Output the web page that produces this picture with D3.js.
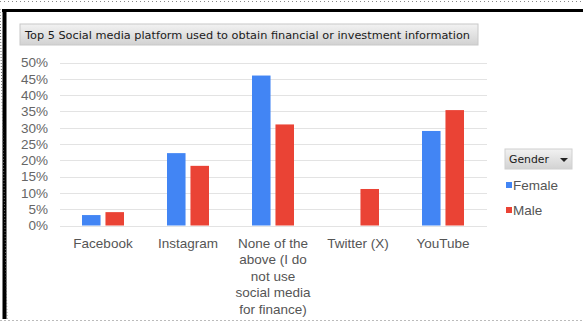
<!DOCTYPE html>
<html>
<head>
<meta charset="utf-8">
<script src="https://cdn.jsdelivr.net/npm/d3@7"></script>
<style>
  body { margin: 0; background: #fff; }
  svg { display: block; font-family: "Liberation Sans", Arial, sans-serif; }
</style>
</head>
<body>
<div id="chart"></div>
<script>
// data
const categories = ["Facebook", "Instagram", "None of the above", "Twitter (X)", "YouTube"];
const tickLabels = [
  ["Facebook"],
  ["Instagram"],
  ["None of the", "above (I do", "not use", "social media", "for finance)"],
  ["Twitter (X)"],
  ["YouTube"]
];
const genders = ["Female", "Male"];
const female = [0.032, 0.222, 0.460, 0, 0.290];
const male = [0.041, 0.183, 0.310, 0.112, 0.354];
const yTicks = [0, 0.05, 0.10, 0.15, 0.20, 0.25, 0.30, 0.35, 0.40, 0.45, 0.50];
const title = "Top 5 Social media platform used to obtain financial or investment information";

const colors = { Female: "#4285f4", Male: "#ea4335" };

let width = 583, height = 325;
let svg = d3.select("#chart").append("svg")
  .attr("width", width)
  .attr("height", height);

// frame round the screenshot
svg.append("line").attr("x1", 0).attr("x2", width).attr("y1", 1.5).attr("y2", 1.5)
  .style("stroke", "#888").style("stroke-dasharray", "1,3");
svg.append("line").attr("x1", 2).attr("x2", width).attr("y1", 10.5).attr("y2", 10.5)
  .style("stroke", "#000").style("stroke-width", 3);
svg.append("line").attr("x1", 4.5).attr("x2", 4.5).attr("y1", 9).attr("y2", 319)
  .style("stroke", "#000").style("stroke-width", 4);
svg.append("line").attr("x1", 0).attr("x2", 7).attr("y1", 9).attr("y2", 319)
  .style("stroke", "#666").style("stroke-dasharray", "1,2");
svg.append("line").attr("x1", 0).attr("x2", width).attr("y1", 320.5).attr("y2", 320.5)
  .style("stroke", "#bbb").style("stroke-dasharray", "2,2");

// gradient for the grey boxes
let defs = svg.append("defs");
let grad = defs.append("linearGradient").attr("id", "boxGrad")
  .attr("x1", 0).attr("x2", 0).attr("y1", 0).attr("y2", 1);
grad.append("stop").attr("offset", "0%").attr("stop-color", "#f2f2f2");
grad.append("stop").attr("offset", "100%").attr("stop-color", "#d2d2d2");

// title box
svg.append("rect")
  .attr("x", 20).attr("y", 24).attr("width", 458).attr("height", 21)
  .attr("fill", "url(#boxGrad)")
  .style("stroke", "#c8c8c8");
svg.append("text")
  .attr("x", 25).attr("y", 38.5)
  .style("font-family", "'DejaVu Sans', Tahoma, sans-serif")
  .style("font-size", "11px")
  .attr("textLength", 445)
  .attr("lengthAdjust", "spacingAndGlyphs")
  .style("fill", "#1a1a1a")
  .text(title);

// scales
let x0 = d3.scaleBand().domain(categories).range([60.5, 485.5]).padding(0);
let x1 = d3.scaleBand().domain(genders).range([0, 42]).paddingInner(0.21);
let y = d3.scaleLinear().domain([0, 0.5]).range([225.5, 62.5]);

// gridlines
svg.append("g")
  .selectAll("line")
  .data(yTicks)
  .enter().append("line")
  .attr("x1", 60).attr("x2", 487)
  .attr("y1", d => Math.round(y(d)) + 0.5)
  .attr("y2", d => Math.round(y(d)) + 0.5)
  .style("stroke", "#e3e3e3");

// y axis labels
let yAxis = svg.append("g")
  .attr("transform", "translate(48,0)")
  .call(d3.axisLeft(y).tickValues(yTicks).tickFormat(d3.format(".0%")).tickSize(0).tickPadding(0));
yAxis.select(".domain").remove();
yAxis.selectAll("text")
  .style("font-family", "'Liberation Sans', Arial, sans-serif")
  .style("font-size", "13.5px")
  .style("fill", "#666");

// bars
let rows = categories.map((c, i) => ({ cat: c, vals: [
  { g: "Female", v: female[i] },
  { g: "Male", v: male[i] }
] }));

let groups = svg.append("g").selectAll("g")
  .data(rows)
  .enter().append("g")
  .attr("transform", d => "translate(" + (x0(d.cat) + (x0.bandwidth() - 42) / 2) + ",0)");

groups.selectAll("rect")
  .data(d => d.vals.filter(e => e.v > 0))
  .enter().append("rect")
  .attr("x", d => x1(d.g))
  .attr("y", d => y(d.v))
  .attr("width", x1.bandwidth())
  .attr("height", d => y(0) - y(d.v))
  .attr("fill", d => colors[d.g]);

// x axis labels (wrapped as in the picture)
let xAxis = svg.append("g")
  .attr("transform", "translate(0,226)")
  .call(d3.axisBottom(x0).tickSize(0).tickFormat(""));
xAxis.select(".domain").remove();
xAxis.selectAll(".tick text").remove();
xAxis.selectAll(".tick")
  .append("text")
  .attr("text-anchor", "middle")
  .style("font-family", "'Liberation Sans', Arial, sans-serif")
  .style("font-size", "13.5px")
  .style("fill", "#555")
  .selectAll("tspan")
  .data((d, i) => tickLabels[i])
  .enter().append("tspan")
  .attr("x", 0)
  .attr("y", (d, i) => 21.5 + i * 16.5)
  .text(d => d);

// legend
let legend = svg.append("g").attr("transform", "translate(505,149)");
legend.append("rect")
  .attr("width", 67).attr("height", 20)
  .attr("fill", "url(#boxGrad)")
  .style("stroke", "#d0d0d0");
legend.append("text")
  .attr("x", 4).attr("y", 14)
  .style("font-family", "'DejaVu Sans', Tahoma, sans-serif")
  .style("font-size", "11px")
  .attr("textLength", 40)
  .attr("lengthAdjust", "spacingAndGlyphs")
  .style("fill", "#1a1a1a")
  .text("Gender");
legend.append("path")
  .attr("d", "M55,9 L63,9 L59,13 Z")
  .attr("fill", "#222");

let items = legend.selectAll(".item")
  .data(genders)
  .enter().append("g")
  .attr("class", "item")
  .attr("transform", (d, i) => "translate(0," + (33 + i * 25) + ")");
items.append("rect")
  .attr("x", 1).attr("y", 0)
  .attr("width", 6).attr("height", 6)
  .attr("fill", d => colors[d]);
items.append("text")
  .attr("x", 8).attr("y", 8)
  .style("font-family", "'Liberation Sans', Arial, sans-serif")
  .style("font-size", "13.5px")
  .style("fill", "#555")
  .text(d => d);
</script>
</body>
</html>
